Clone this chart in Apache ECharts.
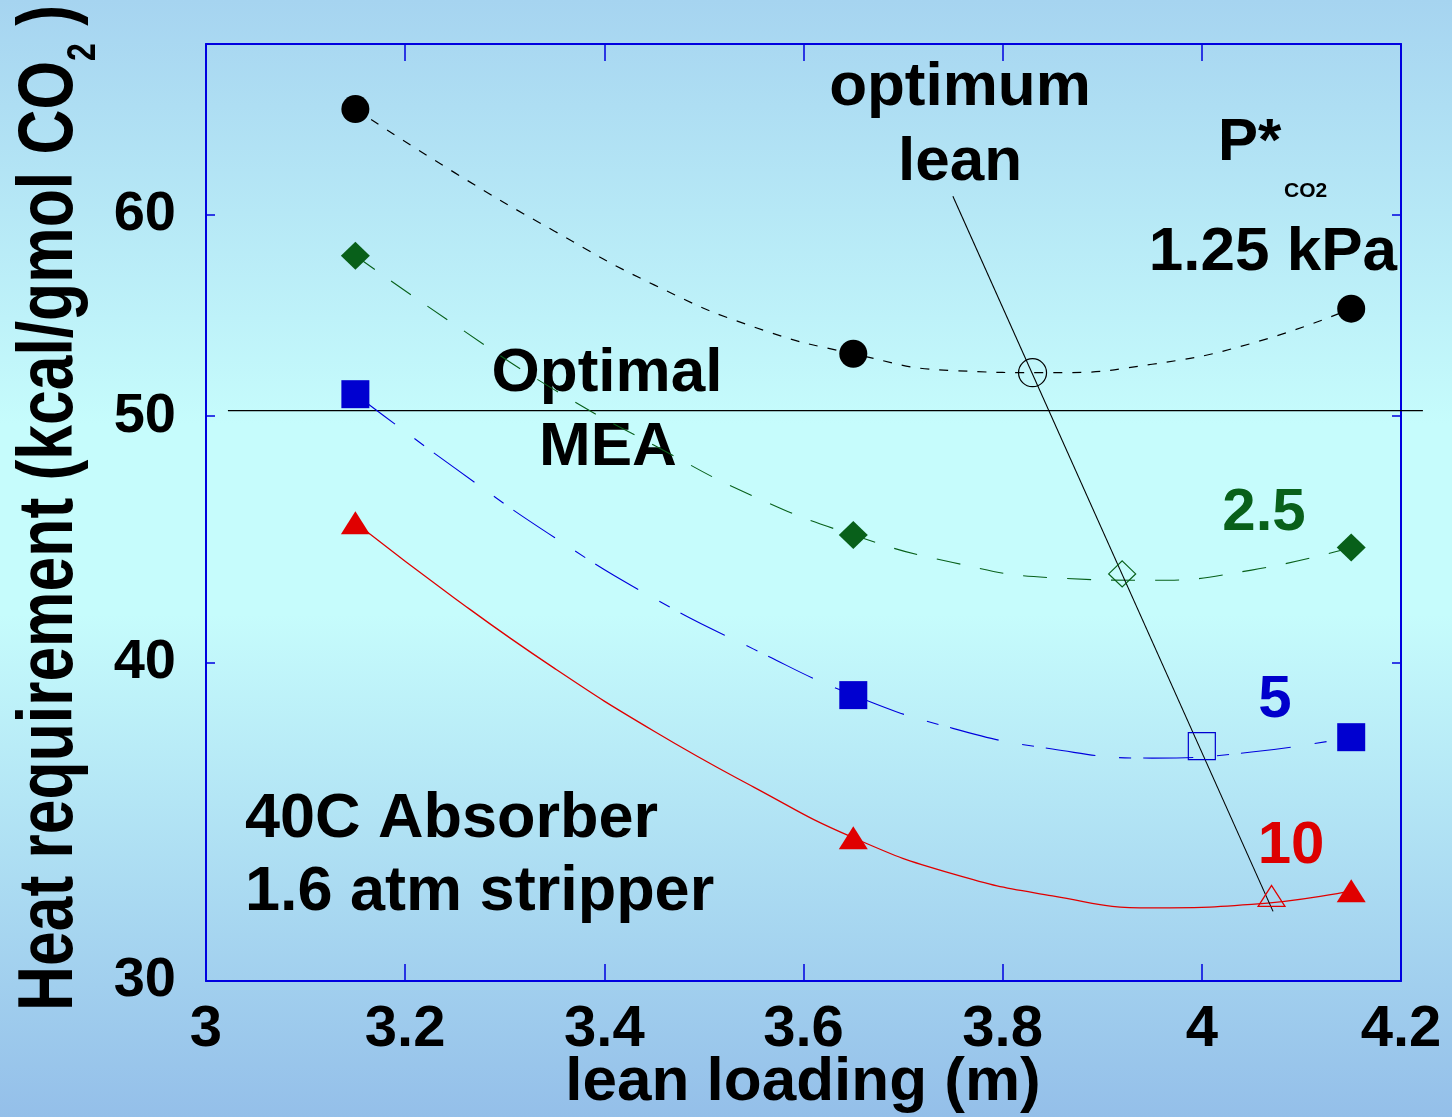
<!DOCTYPE html>
<html>
<head>
<meta charset="utf-8">
<title>Heat requirement vs lean loading</title>
<script src="https://cdn.jsdelivr.net/npm/echarts@6/dist/echarts.min.js"></script>
<style>
    html, body { margin: 0; padding: 0; }
    #chart {
        width: 1452px;
        height: 1117px;
        background: linear-gradient(to bottom, #a6d4f0 0%, #c6fcfc 38%, #c6fcfc 55%, #94bfe9 100%);
    }
</style>
</head>
<body>
<div id="chart"></div>
<script>
    //  measured points (lean loading, m)
    var lean = [3.15, 3.65, 4.15];
    var heat125 = [66.0, 52.9, 55.1];
    var heat25 = [57.8, 44.9, 44.4];
    var heat5 = [51.0, 38.85, 37.4];
    var heat10 = [45.4, 34.15, 32.55];

    //  fitted curves
    var curveLean = [3.15, 3.25, 3.35, 3.45, 3.55, 3.65, 3.75, 3.85, 3.95, 4.05, 4.15];
    var curve125 = [66.0, 62.3, 59.1, 56.3, 54.2, 52.9, 52.1, 52.0, 52.4, 53.4, 55.1];
    var curve25 = [57.8, 54.3, 51.2, 48.7, 46.5, 44.9, 43.8, 43.2, 43.1, 43.5, 44.4];
    var curve5 = [51.0, 47.7, 44.8, 42.4, 40.5, 38.85, 37.7, 37.0, 36.7, 36.9, 37.4];
    var curve10 = [45.4, 42.4, 39.8, 37.6, 35.75, 34.15, 33.05, 32.4, 32.05, 32.15, 32.55];

    //  optimum lean points (open symbols): 1.25, 2.5, 5, 10 kPa
    var optLean = [3.83, 3.92, 4.00, 4.07];
    var optHeat = [52.0, 43.35, 37.1, 32.4];

    //  optimum lean line and optimal MEA line
    var optLineLean = [3.750, 4.0715];
    var optLineHeat = [61.0, 31.95];
    var meaLean = [3.022, 4.222];
    var meaHeat = [50.25, 50.25];

    //  axis ticks
    var yTicks = [30, 40, 50, 60];

    var fontFamily = "'Liberation Sans', Arial, sans-serif";
    var axisBlue = '#0000e0';

    function pairs(xs, ys) {
        return xs.map(function (x, i) { return [x, ys[i]]; });
    }

    var chart = echarts.init(document.getElementById('chart'), null, {renderer: 'canvas'});

    function curve(data, color, width, dash) {
        return {
            type: 'line',
            data: pairs(curveLean, data),
            showSymbol: false,
            smooth: 0.5,
            silent: true,
            lineStyle: {color: color, width: width, type: dash},
            z: 3
        };
    }

    function points(data, symbol, size, color) {
        return {
            type: 'scatter',
            data: pairs(lean, data),
            symbol: symbol,
            symbolSize: size,
            itemStyle: {color: color, opacity: 1},
            z: 5
        };
    }

    function openPoint(i, symbol, size, color) {
        return {
            type: 'scatter',
            data: [[optLean[i], optHeat[i]]],
            symbol: symbol,
            symbolSize: size,
            itemStyle: {color: 'rgba(0,0,0,0)', borderColor: color, borderWidth: 1.2, opacity: 1},
            z: 5
        };
    }

    function label(text, x, y, size, color, align) {
        return {
            type: 'text',
            x: x,
            y: y,
            z: 1,
            style: {
                text: text,
                fill: color || '#000',
                font: 'bold ' + size + 'px ' + fontFamily,
                textAlign: align || 'center',
                textVerticalAlign: 'middle'
            }
        };
    }

    var option = {
        animation: false,
        grid: {
            left: 206,
            top: 44,
            width: 1195,
            height: 937,
            outerBoundsMode: 'none'
        },
        xAxis: [{
            type: 'value',
            min: 3,
            max: 4.2,
            interval: 0.2,
            axisLine: {lineStyle: {color: axisBlue, width: 2}},
            axisTick: {inside: true, length: 17, lineStyle: {color: axisBlue, width: 1.5}},
            splitLine: {show: false},
            axisLabel: {
                color: '#000',
                fontSize: 58,
                fontWeight: 'bold',
                fontFamily: fontFamily,
                margin: 20,
                formatter: function (v) { return String(+v.toFixed(1)); }
            }
        }, {
            type: 'value',
            position: 'top',
            min: 3,
            max: 4.2,
            interval: 0.2,
            axisLine: {lineStyle: {color: axisBlue, width: 2}},
            axisTick: {inside: true, length: 17, lineStyle: {color: axisBlue, width: 1.5}},
            splitLine: {show: false},
            axisLabel: {show: false}
        }],
        yAxis: [{
            type: 'log',
            logBase: 10,
            min: 30,
            max: 70,
            axisLine: {show: true, lineStyle: {color: axisBlue, width: 2}},
            axisTick: {inside: true, length: 9, customValues: yTicks, lineStyle: {color: axisBlue, width: 1.5}},
            splitLine: {show: false},
            minorTick: {show: false},
            axisLabel: {
                customValues: yTicks,
                color: '#000',
                fontSize: 56,
                fontWeight: 'bold',
                fontFamily: fontFamily,
                margin: 30
            }
        }, {
            type: 'log',
            logBase: 10,
            min: 30,
            max: 70,
            position: 'right',
            axisLine: {show: true, lineStyle: {color: axisBlue, width: 2}},
            axisTick: {inside: true, length: 9, customValues: yTicks, lineStyle: {color: axisBlue, width: 1.5}},
            splitLine: {show: false},
            axisLabel: {show: false}
        }],
        series: [
            curve(curve125, '#000000', 1.2, [9, 10]),
            curve(curve25, '#08601a', 1.1, [24, 20]),
            curve(curve5, '#0000dd', 1.1, [50, 24, 12, 12]),
            curve(curve10, '#e00000', 1.3, 'solid'),
            {
                type: 'line',
                data: pairs(optLineLean, optLineHeat),
                showSymbol: false,
                clip: false,
                silent: true,
                lineStyle: {color: '#000', width: 1.1},
                z: 4
            },
            points(heat125, 'circle', 28, '#000000'),
            points(heat25, 'diamond', [29, 28], '#08601a'),
            points(heat5, 'rect', 28, '#0000d0'),
            points(heat10, 'triangle', [29, 23], '#e00000'),
            openPoint(0, 'circle', 28, '#000000'),
            openPoint(1, 'diamond', [27, 26], '#08601a'),
            openPoint(2, 'rect', 27, '#0000d0'),
            openPoint(3, 'triangle', [27, 21], '#e00000')
        ]
    };
    chart.setOption(option);

    //  optimal MEA line runs past the right frame, so draw it through the axis scales
    var finder = {xAxisIndex: 0, yAxisIndex: 0};
    var meaStart = chart.convertToPixel(finder, [meaLean[0], meaHeat[0]]);
    var meaEnd = chart.convertToPixel(finder, [meaLean[1], meaHeat[1]]);

    chart.setOption({
        graphic: [
            {
                type: 'text',
                x: 50,
                y: 508,
                rotation: Math.PI / 2,
                scaleX: 0.8,
                z: 1,
                style: {
                    text: '{a|Heat requirement (kcal/gmol CO}{s|2}{a| )}',
                    textAlign: 'center',
                    textVerticalAlign: 'middle',
                    rich: {
                        a: {fontSize: 78, fontWeight: 'bold', fontFamily: fontFamily, fill: '#000', lineHeight: 80},
                        s: {fontSize: 40, fontWeight: 'bold', fontFamily: fontFamily, fill: '#000', verticalAlign: 'bottom', padding: [0, 0, -14, 0]}
                    }
                }
            },
            {
                type: 'line',
                z: 2,
                silent: true,
                shape: {x1: meaStart[0], y1: meaStart[1], x2: meaEnd[0], y2: meaEnd[1]},
                style: {stroke: '#000', lineWidth: 1.3}
            },
            label('lean loading (m)', 803, 1083, 62),
            label('optimum', 960, 88, 62),
            label('lean', 960, 163, 62),
            label('P*', 1218, 143, 60, '#000', 'left'),
            label('CO2', 1284, 191, 21, '#000', 'left'),
            label('1.25 kPa', 1397, 253, 62, '#000', 'right'),
            label('Optimal', 607, 374, 62),
            label('MEA', 608, 448, 62),
            label('2.5', 1264, 513, 60, '#08601a'),
            label('5', 1275, 700, 60, '#0000cc'),
            label('10', 1291, 846, 60, '#dd0000'),
            label('40C Absorber', 245, 820, 63, '#000', 'left'),
            label('1.6 atm stripper', 245, 893, 63, '#000', 'left')
        ]
    });

    window.addEventListener('resize', function () {
        chart.resize();
    });
</script>
</body>
</html>
